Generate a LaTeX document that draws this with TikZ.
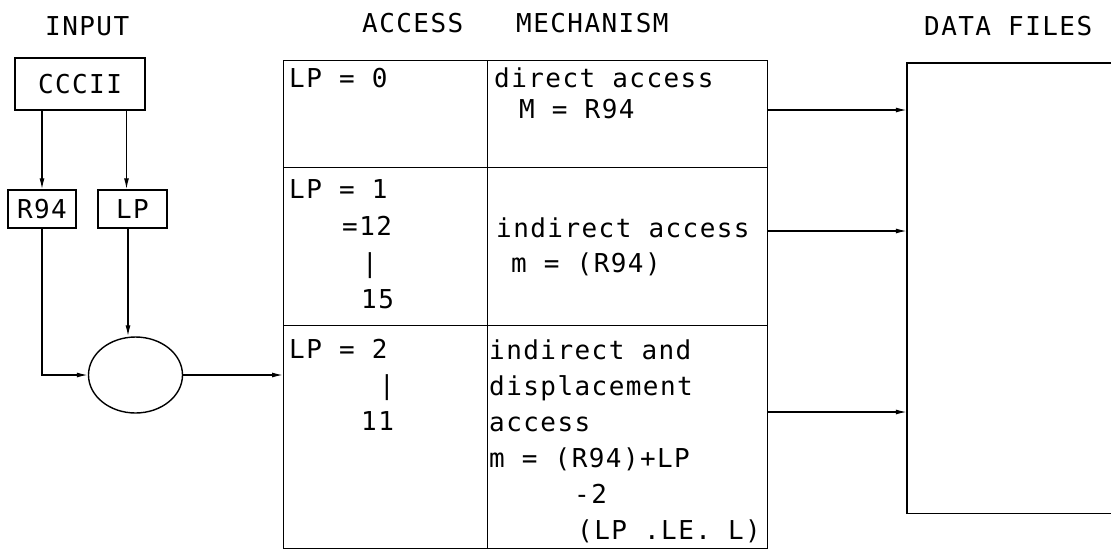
\documentclass[tikz,border=0pt]{standalone}
\usepackage{fontspec}
\newfontfamily\plotfont[LetterSpace=5.5]{DejaVu Sans Mono}
\usetikzlibrary{arrows.meta,shapes.geometric}
\tikzset{
  txt/.style={font=\plotfont\fontsize{26}{30}\selectfont, inner sep=0pt, anchor=base west},
  bar/.style={font=\plotfont\fontsize{26}{30}\selectfont, inner sep=0pt, anchor=base},
  box/.style={draw, line width=1.4pt, inner sep=0pt, font=\plotfont\fontsize{26}{30}\selectfont},
  cell/.style={draw, line width=1.4pt, inner sep=0pt, anchor=north west},
  arr/.style={line width=1.3pt, -{Latex[length=11pt,width=5pt]}},
}
\begin{document}
\begin{tikzpicture}[x=1pt,y=-1pt]
\useasboundingbox (0,0) rectangle (1111,550);
% headers
\node[txt] (hin) at (45,35) {INPUT};
\node[txt] (hacc) at (362,32) {ACCESS};
\node[txt] (hmech) at (516,32) {MECHANISM};
\node[txt] (hdata) at (924,35) {DATA FILES};
% input side
\node[box, minimum width=130pt, minimum height=52pt] (ccc) at (80,84) {CCCII};
\node[box, minimum width=68pt, minimum height=38pt] (r94) at (42,209) {R94};
\node[box, minimum width=69pt, minimum height=38pt] (lp) at (132.5,209) {LP};
\node[draw, ellipse, line width=1.4pt, minimum width=94pt, minimum height=76pt, inner sep=0pt] (ell) at (135.5,375) {};
\coordinate (lpin) at ([xshift=-6pt]lp.north);
\coordinate (lpout) at ([xshift=-4.5pt]lp.south);
\draw[arr] (ccc.south -| r94.north) -- (r94.north);
\draw[arr] (ccc.south -| lpin) -- (lpin);
\draw[arr] (lpout) -- (lpout |- ell.north);
\draw[arr] (r94.south) |- (ell.west);
% table cells
\node[cell, minimum width=204pt, minimum height=107pt] (c1l) at (283,60) {};
\node[cell, minimum width=280pt, minimum height=107pt] (c1r) at (487,60) {};
\node[cell, minimum width=204pt, minimum height=158pt] (c2l) at (283,167) {};
\node[cell, minimum width=280pt, minimum height=158pt] (c2r) at (487,167) {};
\node[cell, minimum width=204pt, minimum height=223pt] (c3l) at (283,325) {};
\node[cell, minimum width=280pt, minimum height=223pt] (c3r) at (487,325) {};
\draw[arr] (ell.east) -- (ell.east -| c3l.west);
% cell texts
\node[txt] (t1a) at (289,87) {LP = 0};
\node[txt] (t1b) at (494,87) {direct access};
\node[txt] (t1c) at (519,118) {M = R94};
\node[txt] (t2a) at (289,198) {LP = 1};
\node[txt] (t2b) at (342,235) {=12};
\node[bar] (t2c) at (370,272) {|};
\node[txt] (t2d) at (361,308) {15};
\node[txt] (t2e) at (496,237) {indirect access};
\node[txt] (t2f) at (511,272) {m = (R94)};
\node[txt] (t3a) at (289,358) {LP = 2};
\node[bar] (t3b) at (387,394) {|};
\node[txt] (t3c) at (361,430) {11};
\node[txt] (t3d) at (489,359) {indirect and};
\node[txt] (t3e) at (489,395) {displacement};
\node[txt] (t3f) at (489,431) {access};
\node[txt] (t3g) at (489,467) {m = (R94)+LP};
\node[txt] (t3h) at (574,503) {-2};
\node[txt] (t3i) at (577,539) {(LP .LE. L)};
% data files
\node[inner sep=0pt, minimum width=204pt, minimum height=450pt] (files) at (1009,288) {};
\draw[line width=1.4pt] (files.north east) -- (files.north west) -- (files.south west) -- (files.south east);
\coordinate (o1) at (c1r.east |- 0,110);
\coordinate (o2) at (c2r.east |- 0,231);
\coordinate (o3) at (c3r.east |- 0,412);
\draw[arr] (o1) -- (o1 -| files.west);
\draw[arr] (o2) -- (o2 -| files.west);
\draw[arr] (o3) -- (o3 -| files.west);
\end{tikzpicture}
\end{document}
